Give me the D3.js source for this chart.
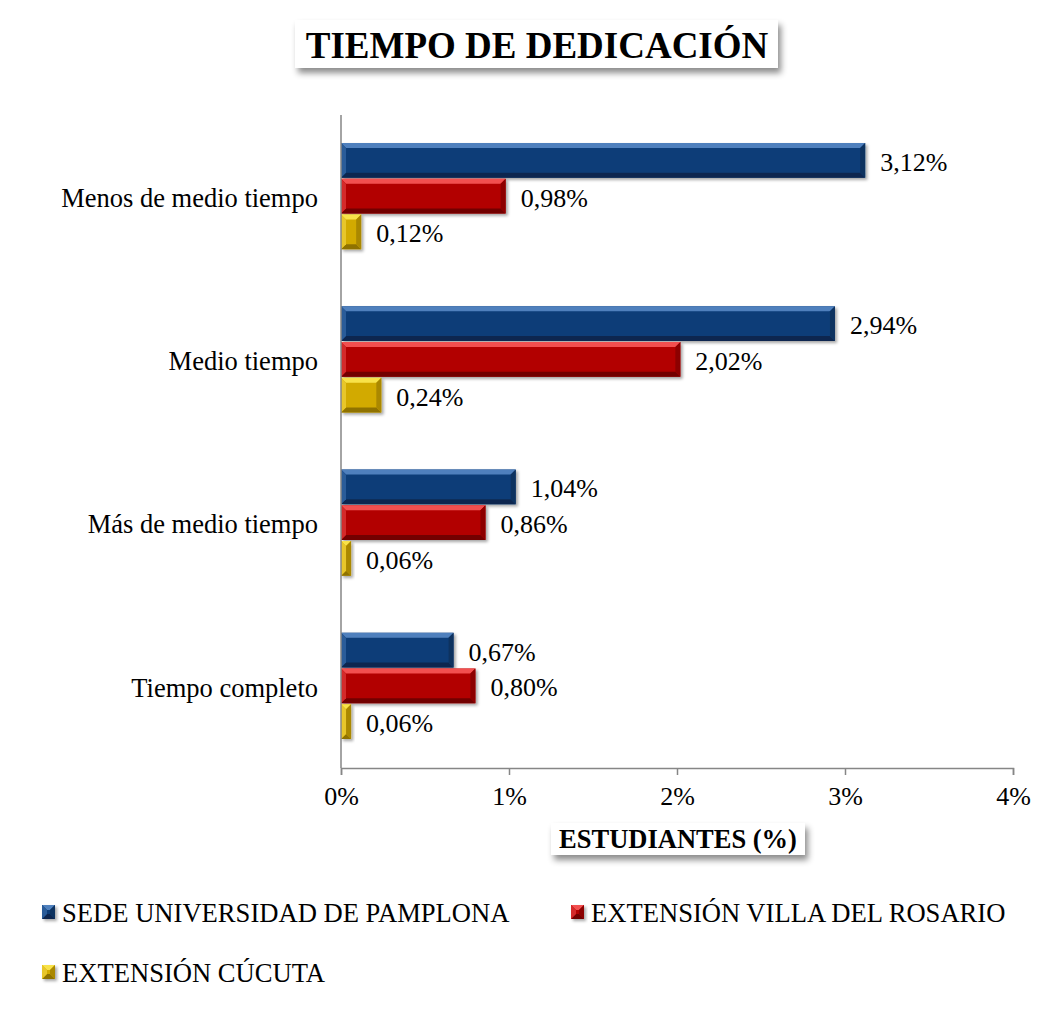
<!DOCTYPE html>
<html><head><meta charset="utf-8">
<script src="https://cdn.jsdelivr.net/npm/d3@7"></script>
<style>body{margin:0;background:#fff}svg{display:block;font-family:"Liberation Serif","Times New Roman",serif}</style>
</head><body>
<script>
const categories = ["Menos de medio tiempo","Medio tiempo","Más de medio tiempo","Tiempo completo"];
const seriesNames = ["SEDE UNIVERSIDAD DE PAMPLONA","EXTENSIÓN VILLA DEL ROSARIO","EXTENSIÓN CÚCUTA"];
const pamplona = [3.12, 2.94, 1.04, 0.67];
const villaRosario = [0.98, 2.02, 0.86, 0.80];
const cucuta = [0.12, 0.24, 0.06, 0.06];
const xTicks = [0,1,2,3,4];
const title = "TIEMPO DE DEDICACIÓN";
const xTitle = "ESTUDIANTES (%)";

const palettes = [
  {main:"#0f3e78", top:"#5080bd", left:"#2b5b99", right:"#0b315f", bottom:"#082850"},
  {main:"#b20000", top:"#f25050", left:"#d42a2a", right:"#8c0000", bottom:"#720000"},
  {main:"#d2aa00", top:"#f8e24a", left:"#e8c62a", right:"#aa8800", bottom:"#8f7200"}
];
const seriesValues = [pamplona, villaRosario, cucuta];

const W=1048,H=1027;
const svg=d3.select("body").append("svg").attr("width",W).attr("height",H);
const defs=svg.append("defs");
function shadow(id,dx,dy,sd,op){
  const f=defs.append("filter").attr("id",id).attr("x","-20%").attr("y","-40%").attr("width","150%").attr("height","200%");
  f.append("feDropShadow").attr("dx",dx).attr("dy",dy).attr("stdDeviation",sd).attr("flood-color","#000").attr("flood-opacity",op);
}
shadow("boxShadow",3,5,3,0.45);
shadow("barShadow",2,2,1.5,0.35);
const blur=defs.append("filter").attr("id","edgeBlur");
blur.append("feGaussianBlur").attr("stdDeviation",1.2);

// left border
svg.append("line").attr("x1",9).attr("x2",9).attr("y1",0).attr("y2",H)
  .attr("stroke","#bdbdbd").attr("stroke-width",2.5).attr("filter","url(#edgeBlur)");

const m={left:341,right:1013,top:115,bottom:768};
const x=d3.scaleLinear().domain([0,4]).range([m.left,m.right]);
const y=d3.scaleBand().domain(categories).range([m.top,m.bottom]).paddingInner(0.343).paddingOuter(0.1715);
const ys=d3.scaleBand().domain(d3.range(3)).range([0,y.bandwidth()]);

// Title
const tg=svg.append("g");
tg.append("rect").attr("x",295).attr("y",20).attr("width",483).attr("height",48).attr("fill","#fff").attr("filter","url(#boxShadow)");
tg.append("text").attr("x",537).attr("y",58).attr("text-anchor","middle").attr("font-weight","bold").attr("font-size",37).text(title);

// bars
const fmt=v=>d3.format(".2f")(v).replace(".",",")+"%";
function bevelBar(g,x0,x1,y0,y1,p){
  const b=Math.min(5,(x1-x0)/2,(y1-y0)/2);
  const bg=g.append("g").attr("filter","url(#barShadow)");
  bg.append("rect").attr("x",x0).attr("y",y0).attr("width",x1-x0).attr("height",y1-y0).attr("fill",p.main);
  const poly=(pts,c)=>bg.append("polygon").attr("points",pts.map(q=>q.join(",")).join(" ")).attr("fill",c);
  poly([[x0,y0],[x1,y0],[x1-b,y0+b],[x0+b,y0+b]],p.top);
  poly([[x0,y1],[x1,y1],[x1-b,y1-b],[x0+b,y1-b]],p.bottom);
  poly([[x0,y0],[x0+b,y0+b],[x0+b,y1-b],[x0,y1]],p.left);
  poly([[x1,y0],[x1-b,y0+b],[x1-b,y1-b],[x1,y1]],p.right);
}
const bars=svg.append("g");
categories.forEach((c,ci)=>{
  seriesValues.forEach((vals,si)=>{
    const y0=y(c)+ys(si), y1=y0+ys.bandwidth();
    bevelBar(bars,x(0),x(vals[ci]),y0,y1-1,palettes[si]);
    bars.append("text").attr("x",x(vals[ci])+15).attr("y",(y0+y1)/2+1).attr("dy","0.35em")
      .attr("font-size",26).attr("fill","#000").text(fmt(vals[ci]));
  });
});

// axes
const axG=svg.append("g");
axG.append("line").attr("x1",x(0)).attr("x2",x(0)).attr("y1",m.top).attr("y2",m.bottom).attr("stroke","#868686").attr("stroke-width",1.5);
const xa=svg.append("g").attr("transform",`translate(0,${m.bottom})`)
  .call(d3.axisBottom(x).tickValues(xTicks).tickFormat(d=>d+"%").tickSize(7).tickPadding(12));
xa.select(".domain").attr("stroke","#868686").attr("stroke-width",1.5);
xa.selectAll(".tick line").attr("stroke","#868686").attr("stroke-width",1.5);
xa.selectAll(".tick text").attr("font-size",26).attr("font-family","Liberation Serif, serif").attr("fill","#000");

// category labels
svg.append("g").selectAll("text").data(categories).join("text")
  .attr("x",318).attr("y",d=>y(d)+y.bandwidth()/2+1).attr("dy","0.35em").attr("text-anchor","end")
  .attr("font-size",26.5).text(d=>d);

// x title
const xg=svg.append("g");
xg.append("rect").attr("x",551).attr("y",823).attr("width",254).attr("height",32).attr("fill","#fff").attr("filter","url(#boxShadow)");
xg.append("text").attr("x",678).attr("y",848).attr("text-anchor","middle").attr("font-weight","bold").attr("font-size",26.5).text(xTitle);

// legend
const legPos=[[42,912],[571,912],[42,972]];
const lg=svg.append("g");
seriesNames.forEach((n,i)=>{
  const [lx,ly]=legPos[i];
  bevelBar(lg,lx,lx+13,ly-7,ly+7,palettes[i]);
  lg.append("text").attr("x",lx+20).attr("y",ly+1).attr("dy","0.35em").attr("font-size",26.6).text(n);
});
</script>
</body></html>
